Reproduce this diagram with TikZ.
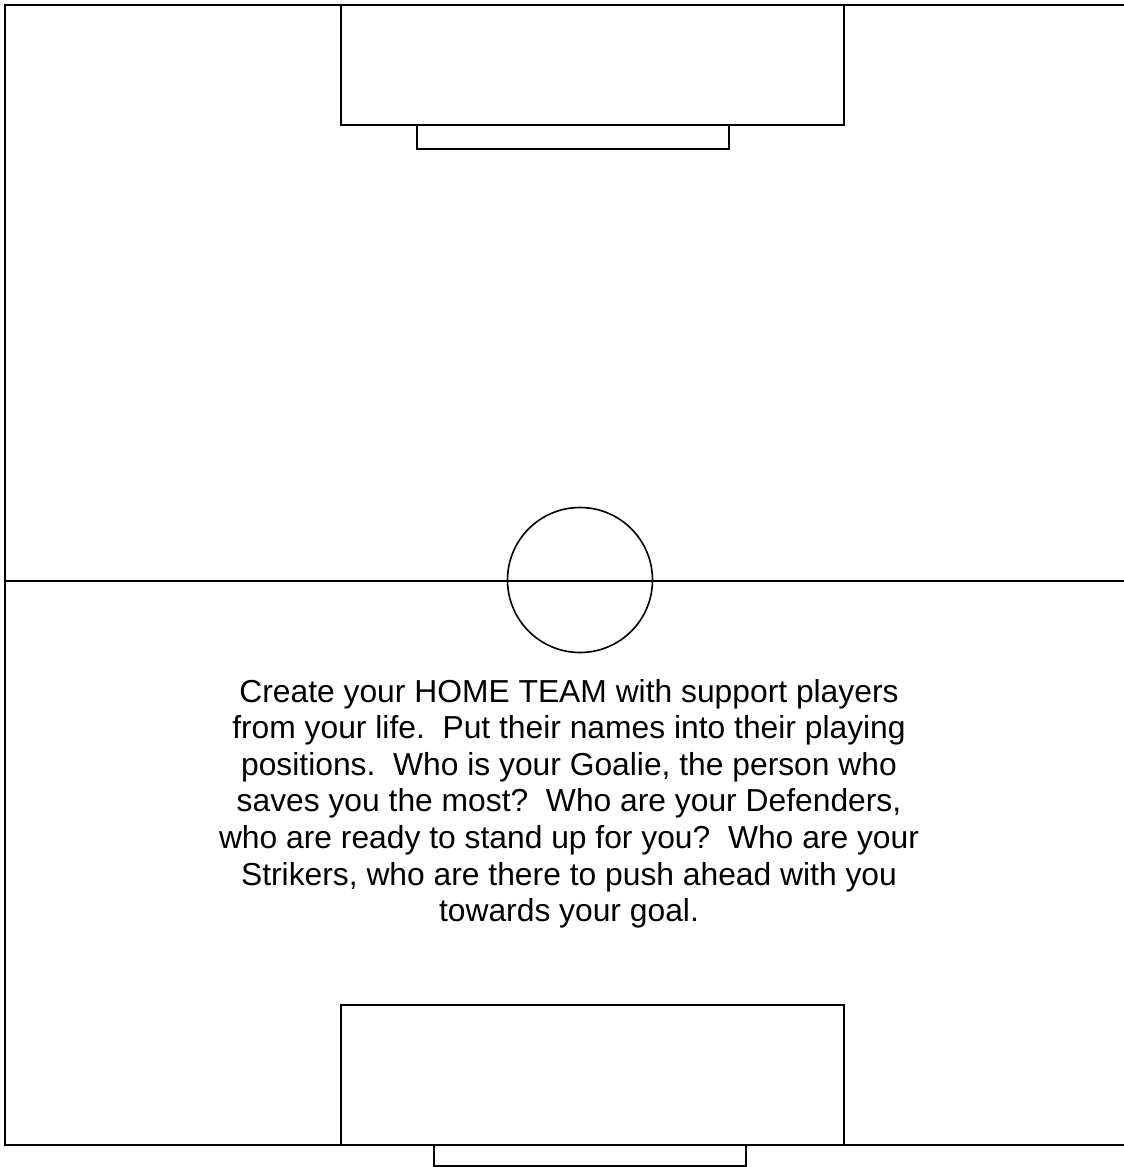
\documentclass[tikz,border=0pt]{standalone}
\usepackage{fontspec}
\setmainfont{Liberation Sans}
\begin{document}
\begin{tikzpicture}[x=1pt,y=-1pt,
  pitchline/.style={draw=black,line width=1.6pt},
  bodytext/.style={align=center,inner sep=0pt,anchor=base,
    font=\fontsize{31.8pt}{36.6pt}\selectfont}]
\useasboundingbox[fill=white] (0,0) rectangle (1124,1167);
\clip (0,0) rectangle (1124,1167);
% field outline
\draw[pitchline] (1130,5) -- (5,5) -- (5,1145) -- (1130,1145);
% halfway line and centre circle
\draw[pitchline] (5,581) -- (1130,581);
\draw[pitchline] (580,580) circle[radius=72.5];
% top goal
\draw[pitchline] (341,5) rectangle (844,125);
\draw[pitchline] (417,125) rectangle (729,149);
% bottom goal
\draw[pitchline] (341,1005) rectangle (844,1145);
\draw[pitchline] (434,1145) rectangle (746,1166);
% text (base anchor = baseline of the last line)
\node[bodytext] (msg) at (569,921.6) {Create your HOME TEAM with support players\\
from your life.\ \ Put their names into their playing\\
positions.\ \ Who is your Goalie, the person who\\
saves you the most?\ \ Who are your Defenders,\\
who are ready to stand up for you?\ \ Who are your\\
Strikers, who are there to push ahead with you\\
towards your goal.};
\end{tikzpicture}
\end{document}
